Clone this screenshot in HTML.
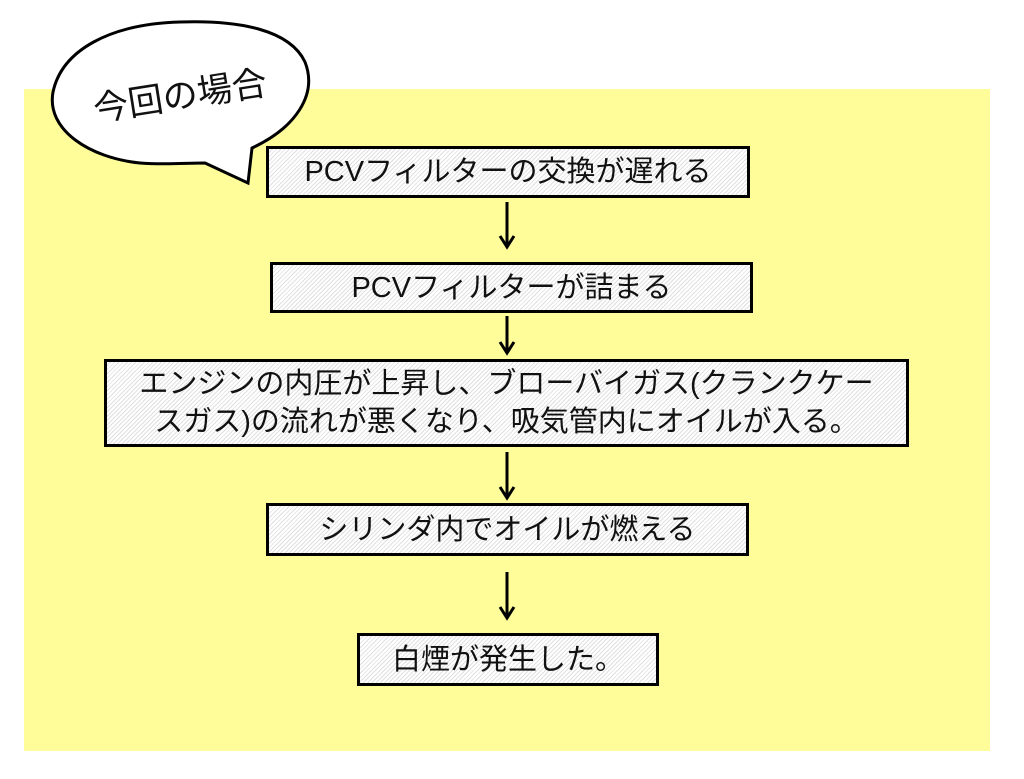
<!DOCTYPE html>
<html><head><meta charset="utf-8"><style>
body{margin:0;width:1024px;height:779px;background:#fff;position:relative;overflow:hidden;font-family:"Liberation Sans","Noto Sans CJK JP",sans-serif;}
.bg{position:absolute;left:24px;top:89px;width:966px;height:662px;background:#fffd9a;}
.box{position:absolute;box-sizing:border-box;border:3px solid #000;background:repeating-linear-gradient(135deg,#fff 0 2px,#e0e0e0 2px 3px);display:flex;align-items:center;justify-content:center;text-align:center;font-size:29px;line-height:38px;color:#111;}
svg{position:absolute;left:0;top:0;}
</style></head><body>
<div class="bg"></div>
<div class="box" style="left:266px;top:146px;width:484px;height:52px;">PCVフィルターの交換が遅れる</div>
<div class="box" style="left:270px;top:262px;width:483px;height:51px;">PCVフィルターが詰まる</div>
<div class="box" style="left:104px;top:359px;width:805px;height:88px;">エンジンの内圧が上昇し、ブローバイガス(クランクケー<br>スガス)の流れが悪くなり、吸気管内にオイルが入る。</div>
<div class="box" style="left:266px;top:503px;width:483px;height:53px;">シリンダ内でオイルが燃える</div>
<div class="box" style="left:357px;top:633px;width:302px;height:53px;">白煙が発生した。</div>
<svg width="1024" height="779">
<g stroke="#000" stroke-width="3" fill="none">
<line x1="507" y1="202" x2="507" y2="246"/><polyline points="500,236 507,247 514,236"/>
<line x1="507" y1="316" x2="507" y2="352"/><polyline points="500,342 507,353 514,342"/>
<line x1="507" y1="452" x2="507" y2="497"/><polyline points="500,487 507,498 514,487"/>
<line x1="507" y1="572" x2="507" y2="617"/><polyline points="500,607 507,618 514,607"/>
</g>
<path d="M 252,148 C 295,128 318,95 305,62 C 290,30 240,20 180,22 C 110,24 62,50 53,92 C 46,130 90,158 140,163 C 165,165 185,163 205,163 L 248,183 Z" fill="#fff" stroke="#000" stroke-width="3" stroke-linejoin="miter"/>
<text x="180" y="108" font-size="35" text-anchor="middle" transform="rotate(-9 180 95)" fill="#111" font-family="Liberation Sans,Noto Sans CJK JP,sans-serif">今回の場合</text>
</svg>
</body></html>
